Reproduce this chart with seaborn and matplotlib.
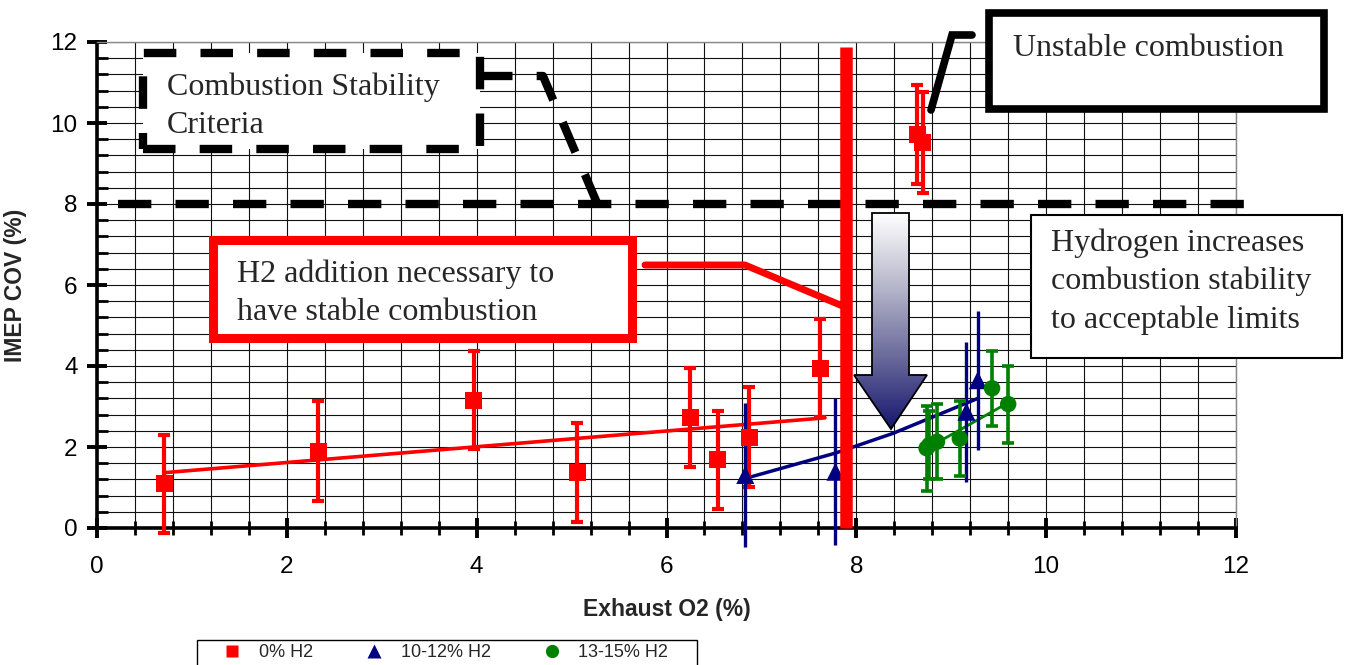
import numpy as np
import matplotlib
matplotlib.use("Agg")
import matplotlib.pyplot as plt
import seaborn as sns
from matplotlib.ticker import MultipleLocator
from matplotlib.patches import Rectangle, Polygon
from matplotlib.lines import Line2D
from matplotlib.colors import LinearSegmentedColormap

# ---------------- data ----------------
h0_x = [0.71, 2.33, 3.97, 5.06, 6.25, 6.54, 6.87, 7.62, 8.64, 8.70]
h0_y = [1.09, 1.90, 3.16, 1.38, 2.72, 1.68, 2.24, 3.94, 9.72, 9.52]
h0_err = [1.21, 1.24, 1.22, 1.22, 1.22, 1.22, 1.23, 1.21, 1.22, 1.24]

h10_x = [6.83, 7.78, 9.16, 9.28]
h10_y = [1.31, 1.39, 2.87, 3.65]
h10_err = [1.77, 1.81, 1.73, 1.72]

h13_x = [8.74, 8.77, 8.85, 9.09, 9.43, 9.60]
h13_y = [1.97, 2.05, 2.13, 2.21, 3.45, 3.06]
h13_err = [1.05, 0.85, 0.93, 0.93, 0.92, 0.95]

trend0_x = [0.73, 7.67]
trend0_y = [1.37, 2.72]
trend10_x = [6.84, 7.78, 8.39, 9.28]
trend10_y = [1.23, 1.85, 2.34, 3.20]
trend13_x = [8.80, 9.59]
trend13_y = [2.04, 3.08]

criteria_y = 8.0
h2_limit_x = 7.89

series_labels = ["0% H2", "10-12% H2", "13-15% H2"]
colors = ["#FF0000", "#000080", "#008000"]

# ---------------- style ----------------
sns.set_theme(style="white")
plt.rcParams["font.family"] = ["Liberation Sans", "DejaVu Sans"]
SERIF = ["Liberation Serif", "DejaVu Serif"]

W, H = 1349, 665
fig = plt.figure(figsize=(W / 100, H / 100), dpi=100)
AX_L, AX_R, AX_T, AX_B = 97, 1236, 42, 528
ax = fig.add_axes([AX_L / W, 1 - AX_B / H, (AX_R - AX_L) / W, (AX_B - AX_T) / H])
ax.set_xlim(0, 12)
ax.set_ylim(0, 12)


def P(x, y):
    """pixel (top-left origin) -> data coordinates"""
    return ((x - AX_L) / (AX_R - AX_L) * 12, (AX_B - y) / (AX_B - AX_T) * 12)


# grid / ticks
for a in (ax.xaxis, ax.yaxis):
    a.set_major_locator(MultipleLocator(2))
    a.set_minor_locator(MultipleLocator(0.4))
ax.grid(True, which="both", color="#111111", lw=0.8, zorder=0)
ax.set_axisbelow(True)
ax.tick_params(which="both", bottom=True, left=True, colors="black")
ax.tick_params(which="major", direction="inout", length=15, width=2.8, labelsize=17.5)
ax.tick_params(axis="x", which="minor", direction="inout", length=9.5, width=2.0)
ax.tick_params(axis="y", which="minor", direction="in", length=8, width=2.0)
ax.tick_params(axis="x", which="major", pad=12.5)
ax.tick_params(axis="y", which="major", pad=6.5)
for s in ("left", "bottom"):
    ax.spines[s].set_color("black")
    ax.spines[s].set_linewidth(2.6)
for s in ("top", "right"):
    ax.spines[s].set_color("#888888")
    ax.spines[s].set_linewidth(1.0)

ax.set_xlabel("Exhaust O2 (%)", fontsize=16.5, fontweight="bold")
ax.set_ylabel("IMEP COV (%)", fontsize=16.5, fontweight="bold")
ax.xaxis.set_label_coords(0.5, -0.145)
ax.yaxis.set_label_coords(-0.0615, 0.5)

# ---------------- data marks ----------------
# trend lines
sns.lineplot(x=trend0_x, y=trend0_y, ax=ax, color=colors[0], lw=2.6, zorder=4, sort=False)
sns.lineplot(x=trend10_x, y=trend10_y, ax=ax, color=colors[1], lw=2.5, zorder=4, sort=False)
sns.lineplot(x=trend13_x, y=trend13_y, ax=ax, color=colors[2], lw=2.0, zorder=4, sort=False)

# error bars
ax.errorbar(h0_x, h0_y, yerr=h0_err, fmt="none", ecolor=colors[0], elinewidth=3.0,
            capsize=4.5, capthick=3.0, zorder=5, clip_on=False)
ax.errorbar(h10_x, h10_y, yerr=h10_err, fmt="none", ecolor=colors[1], elinewidth=2.4,
            capsize=0, zorder=5, clip_on=False)
ax.errorbar(h13_x, h13_y, yerr=h13_err, fmt="none", ecolor=colors[2], elinewidth=2.6,
            capsize=4.5, capthick=2.6, zorder=5, clip_on=False)

# markers
sns.scatterplot(x=h0_x, y=h0_y, ax=ax, marker="s", s=150, color=colors[0],
                edgecolor="none", zorder=6, clip_on=False)
sns.scatterplot(x=h10_x, y=h10_y, ax=ax, marker="^", s=170, color=colors[1],
                edgecolor="none", zorder=6)
sns.scatterplot(x=h13_x, y=h13_y, ax=ax, marker="o", s=140, color=colors[2],
                edgecolor="none", zorder=6)

# stability criteria line
x0, _ = P(118, 0)
x1, _ = P(1248, 0)
ax.plot([x0, x1], [criteria_y, criteria_y], color="black", lw=6,
        linestyle=(0, (4.0, 2.9)), solid_capstyle="butt", zorder=3, clip_on=False)

# red vertical limit line
_, ytop = P(0, 47)
ax.plot([h2_limit_x, h2_limit_x], [0, ytop], color="#FF0000", lw=9,
        solid_capstyle="butt", zorder=7, clip_on=False)

# ---------------- annotations ----------------
LS = 1.41
# Combustion Stability Criteria (dashed box)
bx0, by0 = P(143, 149)
bx1, by1 = P(480, 53)
ax.add_patch(Rectangle((bx0, by0), bx1 - bx0, by1 - by0, facecolor="white",
                       edgecolor="black", lw=6, linestyle=(0, (3.9, 2.9)),
                       zorder=3, clip_on=False))
cx, cy = zip(P(480, 76), P(543, 76), P(597, 203))
ax.plot(cx, cy, color="black", lw=6, linestyle=(0, (3.9, 2.9)), zorder=3,
        clip_on=False)
ax.text(*P(167, 133), "Combustion Stability\nCriteria", family=SERIF, fontsize=23,
        va="baseline", ha="left", linespacing=LS, zorder=4)

# H2 addition box (red)
rx0, ry0 = P(213, 338)
rx1, ry1 = P(632, 240)
ax.add_patch(Rectangle((rx0, ry0), rx1 - rx0, ry1 - ry0, facecolor="white",
                       edgecolor="#FF0000", lw=6.5, zorder=3, clip_on=False))
lx, ly = zip(P(645, 265), P(745, 265), P(845, 307))
ax.plot(lx, ly, color="#FF0000", lw=5, zorder=7, clip_on=False)
ax.text(*P(237, 320), "H2 addition necessary to\nhave stable combustion", family=SERIF,
        fontsize=23, va="baseline", ha="left", linespacing=LS, zorder=4)

# Unstable combustion box (black)
ux0, uy0 = P(989, 109)
ux1, uy1 = P(1324, 13)
ax.add_patch(Rectangle((ux0, uy0), ux1 - ux0, uy1 - uy0, facecolor="white",
                       edgecolor="black", lw=5.5, zorder=3, clip_on=False))
kx, ky = zip(P(931, 110), P(952, 35), P(972, 35))
ax.plot(kx, ky, color="black", lw=5.5, zorder=7, clip_on=False,
        solid_joinstyle="miter")
ax.text(*P(1013, 56), "Unstable combustion", family=SERIF, fontsize=23,
        va="baseline", ha="left", zorder=4)

# Hydrogen increases box
hx0, hy0 = P(1031, 358)
hx1, hy1 = P(1342, 215)
ax.add_patch(Rectangle((hx0, hy0), hx1 - hx0, hy1 - hy0, facecolor="white",
                       edgecolor="black", lw=1.5, zorder=3, clip_on=False))
ax.text(*P(1051, 328), "Hydrogen increases\ncombustion stability\nto acceptable limits",
        family=SERIF, fontsize=23, va="baseline", ha="left", linespacing=LS, zorder=4)

# gradient arrow
arrow_px = [(872, 213), (909, 213), (909, 375), (927, 375), (891, 429),
            (854, 375), (872, 375)]
arrow_pts = [P(*p) for p in arrow_px]
poly = Polygon(arrow_pts, closed=True, facecolor="none", edgecolor="black",
               lw=1.3, zorder=6, clip_on=False)
ax.add_patch(poly)
cmap = LinearSegmentedColormap.from_list("arr", ["#ffffff", "#b8b8cc", "#6a6a9c", "#16166e"])
ax_l, ax_top = P(854, 213)
ax_r, ax_bot = P(927, 429)
grad = np.linspace(0, 1, 256).reshape(-1, 1)
im = ax.imshow(grad, cmap=cmap, aspect="auto", extent=[ax_l, ax_r, ax_bot, ax_top],
               origin="upper", zorder=5.5, interpolation="bilinear")
im.set_clip_path(poly)
ax.set_xlim(0, 12)
ax.set_ylim(0, 12)

# ---------------- legend ----------------
handles = [
    Line2D([], [], ls="none", marker="s", ms=8.6, color=colors[0], mec="none"),
    Line2D([], [], ls="none", marker="^", ms=10, color=colors[1], mec="none"),
    Line2D([], [], ls="none", marker="o", ms=9.5, color=colors[2], mec="none"),
]
fig.patches.append(Rectangle((197 / W, -0.05), (697 - 197) / W, 0.05 + (1 - 640 / H),
                             transform=fig.transFigure, facecolor="white",
                             edgecolor="black", lw=1.0, zorder=1))
fig.legend(handles, series_labels, loc="upper left",
           bbox_to_anchor=(223 / W, 1 - 644 / H), ncol=3, frameon=False,
           borderpad=0, borderaxespad=0, handlelength=1.05, handletextpad=0.95,
           columnspacing=2.85, fontsize=13)

fig.savefig("out.png", dpi=100)
